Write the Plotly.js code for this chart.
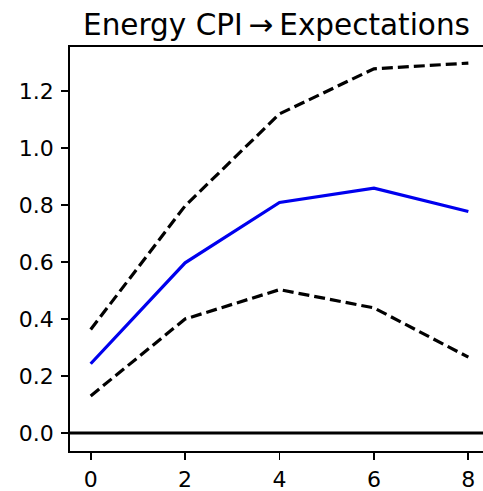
<!DOCTYPE html>
<html>
<head>
<meta charset="utf-8">
<script src="https://cdn.plot.ly/plotly-3.0.1.min.js"></script>
<style>html,body{margin:0;padding:0;background:#fff;}#chart{width:483px;height:491px;}</style>
</head>
<body>
<div id="chart"></div>
<script>
const horizons = [0, 2, 4, 6, 8];
const irf = [0.243, 0.597, 0.809, 0.859, 0.777];
const upperBand = [0.363, 0.797, 1.12, 1.278, 1.298];
const lowerBand = [0.130, 0.400, 0.503, 0.439, 0.266];
const xTicks = [0, 2, 4, 6, 8];
const yTicks = [0.0, 0.2, 0.4, 0.6, 0.8, 1.0, 1.2];
const yTickLabels = ['0.0', '0.2', '0.4', '0.6', '0.8', '1.0', '1.2'];
const titleText = 'Energy CPI\u2009\u2192\u2009Expectations';

const font = 'DejaVu Sans, sans-serif';
const traces = [
  {x: horizons, y: upperBand, mode: 'lines', line: {color: '#000', width: 3.2, dash: '11px,5px'}, hoverinfo: 'skip'},
  {x: horizons, y: lowerBand, mode: 'lines', line: {color: '#000', width: 3.2, dash: '11px,5px'}, hoverinfo: 'skip'},
  {x: horizons, y: irf, mode: 'lines', line: {color: '#0000ee', width: 3.2}, hoverinfo: 'skip'}
];
const layout = {
  width: 483, height: 491,
  margin: {l: 70, r: 0, t: 47, b: 40},
  paper_bgcolor: '#fff', plot_bgcolor: '#fff',
  showlegend: false,
  font: {family: font, color: '#000', size: 22},
  title: {text: titleText, font: {family: font, size: 29.5, color: '#000'}, x: 0.5, xref: 'paper', xanchor: 'center', y: 1, yref: 'paper', yanchor: 'bottom', pad: {b: 12}},
  xaxis: {range: [-0.438, 8.31], tickvals: xTicks, ticktext: xTicks.map(String), showgrid: false, zeroline: false,
    showline: true, linecolor: '#000', linewidth: 1.8, mirror: true, ticks: 'outside', ticklen: 7, tickwidth: 1.8, tickcolor: '#000', tickfont: {size: 22}, ticklabelstandoff: 1},
  yaxis: {range: [-0.0632, 1.3545], tickvals: yTicks, ticktext: yTickLabels, showgrid: false, zeroline: false,
    showline: true, linecolor: '#000', linewidth: 1.8, ticks: 'outside', ticklen: 7, tickwidth: 1.8, tickcolor: '#000', tickfont: {size: 22}, ticklabelstandoff: 3},
  shapes: [{type: 'line', xref: 'paper', x0: 0, x1: 1, yref: 'y', y0: 0, y1: 0, line: {color: '#000', width: 3}}]
};
Plotly.newPlot('chart', traces, layout, {displayModeBar: false, staticPlot: true});
</script>
</body>
</html>
